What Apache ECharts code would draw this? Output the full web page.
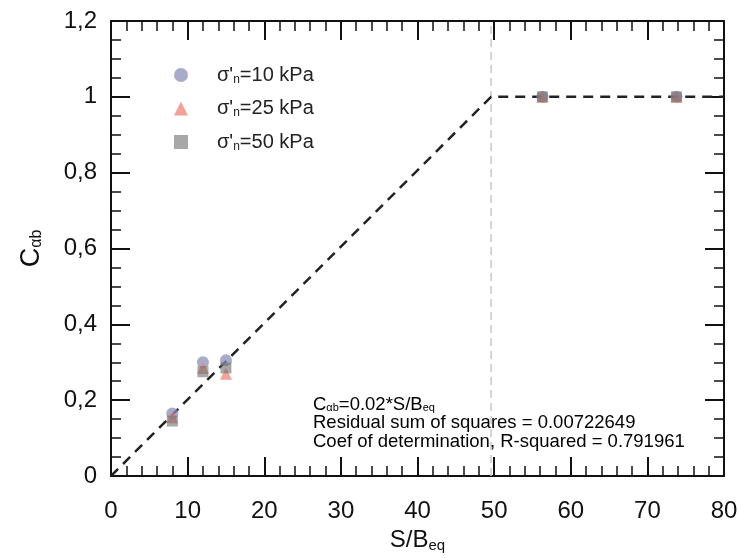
<!DOCTYPE html>
<html><head><meta charset="utf-8">
<script src="https://cdn.jsdelivr.net/npm/echarts@6/dist/echarts.min.js"></script>
<style>html,body{margin:0;padding:0;background:#fff}#c{width:738px;height:558px}</style>
</head><body><div id="c"></div>
<script>
// Data
const seriesNames = ["10", "25", "50"];
const xValues = [8, 12, 15, 56.3, 73.8];
const y10 = [0.165, 0.30, 0.305, 1.0, 1.0];
const y25 = [0.155, 0.285, 0.27, 1.0, 1.0];
const y50 = [0.145, 0.275, 0.285, 1.0, 1.0];
const fitX = [0, 49.6, 80];
const fitY = [0, 1.0, 1.0];
const kneeX = 49.6;
const xTicks = [0, 10, 20, 30, 40, 50, 60, 70, 80];
const yTicks = [0, 0.2, 0.4, 0.6, 0.8, 1, 1.2];

const F = "'Liberation Sans', Arial, sans-serif";
const chart = echarts.init(document.getElementById('c'), null, {renderer: 'canvas'});
const zip = (xs, ys) => xs.map((x, i) => [x, ys[i]]);
const axisLineStyle = {color: '#111', width: 2};
const tickCommon = {show: true, inside: true, length: 19, lineStyle: {color: '#111', width: 2}};
const minorCommon = {show: true, length: 10, lineStyle: {color: '#111', width: 1.5}};

const legendRich = {
  a: {fontFamily: F, fontSize: 20, color: '#222'},
  s: {fontFamily: F, fontSize: 12, color: '#222', verticalAlign: 'bottom', padding: [9, 0, 0, 0]}
};

const option = {
  animation: false,
  grid: {left: 111, right: 14, top: 21, bottom: 82, outerBoundsMode: 'none', containLabel: false},
  legend: {
    orient: 'vertical', left: 169, top: 60, itemGap: 13, itemWidth: 14, itemHeight: 14,
    data: seriesNames.map(n => ({name: n})),
    formatter: n => "{a|σ'}{s|n}{a|=" + n + " kPa}",
    textStyle: {rich: legendRich, padding: [0, 0, 0, 24]}
  },
  xAxis: [{
    type: 'value', min: 0, max: 80, interval: 10, position: 'bottom',
    name: '{a|S/B}{s|eq}', nameLocation: 'middle', nameGap: 50,
    nameTextStyle: {rich: {a: {fontFamily: F, fontSize: 24, color: '#111'}, s: {fontFamily: F, fontSize: 15, color: '#111', verticalAlign: 'bottom', padding: [12, 0, 0, 0]}}},
    axisLine: {show: true, onZero: false, lineStyle: axisLineStyle},
    axisTick: tickCommon, minorTick: Object.assign({splitNumber: 5}, minorCommon),
    axisLabel: {fontFamily: F, fontSize: 24, color: '#111', margin: 23},
    splitLine: {show: false}
  }, {
    type: 'value', min: 0, max: 80, interval: 10, position: 'top',
    axisLine: {show: true, onZero: false, lineStyle: axisLineStyle},
    axisTick: tickCommon, minorTick: Object.assign({splitNumber: 5}, minorCommon),
    axisLabel: {show: false}, splitLine: {show: false}
  }],
  yAxis: [{
    type: 'value', min: 0, max: 1.2, interval: 0.2, position: 'left',
    name: '{a|C}{s|αb}', nameLocation: 'middle', nameGap: 66, nameRotate: 90,
    nameTextStyle: {rich: {a: {fontFamily: F, fontSize: 27, color: '#111'}, s: {fontFamily: F, fontSize: 16, color: '#111', verticalAlign: 'bottom', padding: [10, 0, 0, 0]}}},
    axisLine: {show: true, onZero: false, lineStyle: axisLineStyle},
    axisTick: tickCommon, minorTick: Object.assign({splitNumber: 4}, minorCommon),
    axisLabel: {fontFamily: F, fontSize: 24, color: '#111', margin: 14,
      formatter: v => String(Math.round(v * 10) / 10).replace('.', ',')},
    splitLine: {show: false}
  }, {
    type: 'value', min: 0, max: 1.2, interval: 0.2, position: 'right',
    axisLine: {show: true, onZero: false, lineStyle: axisLineStyle},
    axisTick: tickCommon, minorTick: Object.assign({splitNumber: 4}, minorCommon),
    axisLabel: {show: false}, splitLine: {show: false}
  }],
  series: [
    {
      name: 'knee', type: 'line', xAxisIndex: 0, yAxisIndex: 0, data: [[kneeX, 0], [kneeX, 1.2]],
      symbol: 'none', lineStyle: {color: '#c8c8c8', width: 1.5, type: [8, 5]}, z: 1, silent: true
    },
    {
      name: 'fit', type: 'line', data: zip(fitX, fitY), symbol: 'none',
      lineStyle: {color: '#222', width: 2.5, type: [10, 7]}, z: 3, silent: true
    },
    {name: '10', type: 'scatter', data: zip(xValues, y10), symbol: 'circle', symbolSize: 12,
      itemStyle: {color: '#8c8fb8', opacity: 0.75}, z: 4},
    {name: '25', type: 'scatter', data: zip(xValues, y25), symbol: 'triangle', symbolSize: 12,
      itemStyle: {color: '#ee7a6c', opacity: 0.7}, z: 4},
    {name: '50', type: 'scatter', data: zip(xValues, y50), symbol: 'rect', symbolSize: 11,
      itemStyle: {color: '#6e6e6e', opacity: 0.6}, z: 4}
  ],
  graphic: [{
    type: 'text', left: 313, top: 395, z: 10,
    style: {
      text: '{a|C}{s|αb}{a|=0.02*S/B}{s|eq}\n{a|Residual sum of squares = 0.00722649}\n{a|Coef of determination, R-squared = 0.791961}',
      rich: {
        a: {fontFamily: F, fontSize: 18.5, color: '#111', lineHeight: 18.5},
        s: {fontFamily: F, fontSize: 11, color: '#111', verticalAlign: 'bottom', padding: [7, 0, 0, 0], lineHeight: 18.5}
      }
    }
  }]
};
chart.setOption(option);
</script>
</body></html>
